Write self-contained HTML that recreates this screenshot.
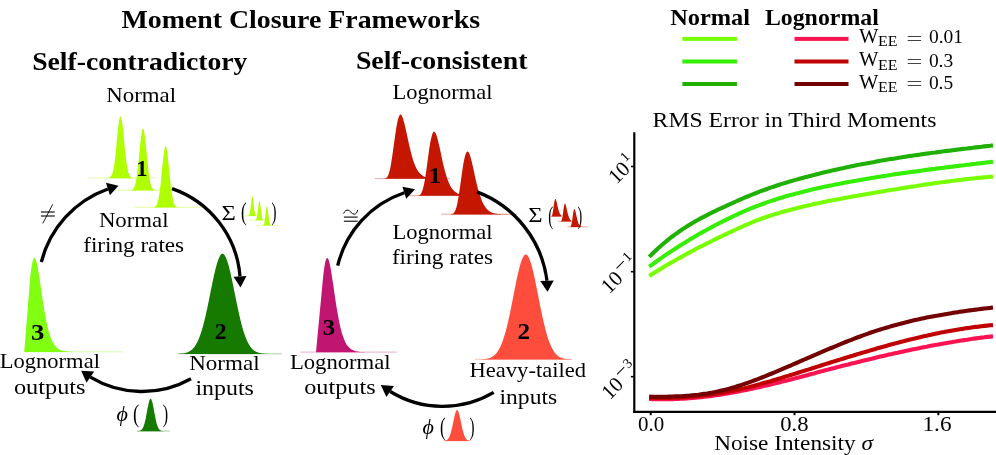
<!DOCTYPE html>
<html><head><meta charset="utf-8"><style>
html,body{margin:0;padding:0;background:#fff;}
body{width:996px;height:455px;overflow:hidden;}
svg{display:block;}
text{font-family:"Liberation Serif",serif;fill:#000;}
</style></head><body>
<svg width="996" height="455" viewBox="0 0 996 455">
<rect width="996" height="455" fill="#fff"/>
<g style="opacity:0.999">
<text x="121.4" y="27.6" font-size="25.5" textLength="358.6" lengthAdjust="spacingAndGlyphs" font-weight="bold">Moment Closure Frameworks</text>
<text x="32.2" y="69.6" font-size="25.5" textLength="215.2" lengthAdjust="spacingAndGlyphs" font-weight="bold">Self-contradictory</text>
<text x="355.9" y="69.4" font-size="25.5" textLength="171.5" lengthAdjust="spacingAndGlyphs" font-weight="bold">Self-consistent</text>
<text x="106.2" y="101.7" font-size="22" textLength="69.9" lengthAdjust="spacingAndGlyphs">Normal</text>
<line x1="88.4" y1="178" x2="156.6" y2="178" stroke="#b0ff00" stroke-width="1" opacity="0.35"/><path d="M88.4 178.2 L88.4 178.2 L89.1 178.2 L89.8 178.2 L90.5 178.2 L91.2 178.2 L91.8 178.2 L92.5 178.2 L93.2 178.2 L93.9 178.2 L94.6 178.2 L95.3 178.2 L96 178.2 L96.7 178.2 L97.4 178.2 L98 178.2 L98.7 178.2 L99.4 178.2 L100.1 178.2 L100.8 178.2 L101.5 178.2 L102.2 178.2 L102.9 178.2 L103.6 178.2 L104.2 178.2 L104.9 178.2 L105.6 178.2 L106.3 178.2 L107 178.1 L107.7 178.1 L108.4 178 L109.1 177.8 L109.8 177.5 L110.4 176.9 L111.1 176.1 L111.8 174.8 L112.5 172.9 L113.2 170.3 L113.9 166.7 L114.6 162.2 L115.3 156.6 L116 150.3 L116.6 143.3 L117.3 136.1 L118 129.3 L118.7 123.4 L119.4 119 L120.1 116.6 L120.8 116.4 L121.5 118.4 L122.2 122.4 L122.8 128 L123.5 134.7 L124.2 141.9 L124.9 148.9 L125.6 155.5 L126.3 161.2 L127 165.9 L127.7 169.7 L128.4 172.5 L129 174.5 L129.7 175.9 L130.4 176.8 L131.1 177.4 L131.8 177.8 L132.5 178 L133.2 178.1 L133.9 178.1 L134.6 178.2 L135.2 178.2 L135.9 178.2 L136.6 178.2 L137.3 178.2 L138 178.2 L138.7 178.2 L139.4 178.2 L140.1 178.2 L140.8 178.2 L141.4 178.2 L142.1 178.2 L142.8 178.2 L143.5 178.2 L144.2 178.2 L144.9 178.2 L145.6 178.2 L146.3 178.2 L147 178.2 L147.6 178.2 L148.3 178.2 L149 178.2 L149.7 178.2 L150.4 178.2 L151.1 178.2 L151.8 178.2 L152.5 178.2 L153.2 178.2 L153.8 178.2 L154.5 178.2 L155.2 178.2 L155.9 178.2 L156.6 178.2 L156.6 178.2 Z" fill="#b0ff00"/>
<line x1="115" y1="190.2" x2="171" y2="190.2" stroke="#b0ff00" stroke-width="1" opacity="0.35"/><path d="M115 190.4 L115 190.4 L115.6 190.4 L116.1 190.4 L116.7 190.4 L117.3 190.4 L117.8 190.4 L118.4 190.4 L119 190.4 L119.5 190.4 L120.1 190.4 L120.7 190.4 L121.2 190.4 L121.8 190.4 L122.4 190.4 L122.9 190.4 L123.5 190.4 L124.1 190.4 L124.6 190.4 L125.2 190.4 L125.7 190.4 L126.3 190.4 L126.9 190.4 L127.4 190.4 L128 190.4 L128.6 190.4 L129.1 190.4 L129.7 190.3 L130.3 190.3 L130.8 190.2 L131.4 190.1 L132 189.8 L132.5 189.5 L133.1 189 L133.7 188.2 L134.2 187.2 L134.8 185.8 L135.4 183.9 L135.9 181.4 L136.5 178.3 L137.1 174.5 L137.6 170.1 L138.2 165 L138.8 159.4 L139.3 153.6 L139.9 147.7 L140.5 142.1 L141 137.1 L141.6 133 L142.2 130.1 L142.7 128.6 L143.3 128.6 L143.8 130.1 L144.4 133 L145 137.1 L145.5 142.1 L146.1 147.7 L146.7 153.6 L147.2 159.4 L147.8 165 L148.4 170.1 L148.9 174.5 L149.5 178.3 L150.1 181.4 L150.6 183.9 L151.2 185.8 L151.8 187.2 L152.3 188.2 L152.9 189 L153.5 189.5 L154 189.8 L154.6 190.1 L155.2 190.2 L155.7 190.3 L156.3 190.3 L156.9 190.4 L157.4 190.4 L158 190.4 L158.6 190.4 L159.1 190.4 L159.7 190.4 L160.3 190.4 L160.8 190.4 L161.4 190.4 L161.9 190.4 L162.5 190.4 L163.1 190.4 L163.6 190.4 L164.2 190.4 L164.8 190.4 L165.3 190.4 L165.9 190.4 L166.5 190.4 L167 190.4 L167.6 190.4 L168.2 190.4 L168.7 190.4 L169.3 190.4 L169.9 190.4 L170.4 190.4 L171 190.4 L171 190.4 Z" fill="#b0ff00"/>
<line x1="134" y1="207.3" x2="201" y2="207.3" stroke="#b0ff00" stroke-width="1" opacity="0.35"/><path d="M134 207.5 L134 207.5 L134.7 207.5 L135.4 207.5 L136 207.5 L136.7 207.5 L137.4 207.5 L138.1 207.5 L138.7 207.5 L139.4 207.5 L140.1 207.5 L140.8 207.5 L141.4 207.5 L142.1 207.5 L142.8 207.5 L143.5 207.5 L144.2 207.5 L144.8 207.5 L145.5 207.5 L146.2 207.5 L146.9 207.5 L147.5 207.5 L148.2 207.5 L148.9 207.5 L149.6 207.5 L150.2 207.5 L150.9 207.5 L151.6 207.5 L152.3 207.4 L152.9 207.4 L153.6 207.3 L154.3 207.1 L155 206.7 L155.7 206.1 L156.3 205.3 L157 203.9 L157.7 202 L158.4 199.3 L159 195.8 L159.7 191.3 L160.4 185.9 L161.1 179.6 L161.7 172.8 L162.4 165.8 L163.1 159.2 L163.8 153.4 L164.5 149 L165.1 146.5 L165.8 146.1 L166.5 147.8 L167.2 151.5 L167.8 156.8 L168.5 163.2 L169.2 170.1 L169.9 177.1 L170.5 183.6 L171.2 189.3 L171.9 194.2 L172.6 198.1 L173.3 201.1 L173.9 203.3 L174.6 204.8 L175.3 205.8 L176 206.5 L176.6 206.9 L177.3 207.2 L178 207.3 L178.7 207.4 L179.3 207.5 L180 207.5 L180.7 207.5 L181.4 207.5 L182.1 207.5 L182.7 207.5 L183.4 207.5 L184.1 207.5 L184.8 207.5 L185.4 207.5 L186.1 207.5 L186.8 207.5 L187.5 207.5 L188.1 207.5 L188.8 207.5 L189.5 207.5 L190.2 207.5 L190.8 207.5 L191.5 207.5 L192.2 207.5 L192.9 207.5 L193.6 207.5 L194.2 207.5 L194.9 207.5 L195.6 207.5 L196.3 207.5 L196.9 207.5 L197.6 207.5 L198.3 207.5 L199 207.5 L199.6 207.5 L200.3 207.5 L201 207.5 L201 207.5 Z" fill="#b0ff00"/>
<text x="136.3" y="175.5" font-size="23" textLength="11.2" lengthAdjust="spacingAndGlyphs" font-weight="bold">1</text>
<text x="98.9" y="227" font-size="22" textLength="69.6" lengthAdjust="spacingAndGlyphs">Normal</text>
<text x="83.2" y="252.1" font-size="22" textLength="100.9" lengthAdjust="spacingAndGlyphs">firing rates</text>
<line x1="24.2" y1="351.8" x2="122.6" y2="351.8" stroke="#80ff10" stroke-width="1" opacity="0.35"/><path d="M24.2 352 L30.4 275 L31.7 265.8 L32.9 259.9 L34.2 257.6 L35.4 258.5 L36.7 262.4 L37.9 268.4 L39.1 276 L40.4 284.3 L41.6 292.9 L42.9 301.3 L44.1 309.2 L45.4 316.3 L46.6 322.6 L47.9 328.1 L49.1 332.8 L50.4 336.6 L51.6 339.8 L52.8 342.4 L54.1 344.5 L55.3 346.2 L56.6 347.5 L57.8 348.6 L59.1 349.4 L60.3 350 L61.6 350.5 L62.8 350.9 L64.1 351.1 L65.3 351.3 L66.5 351.5 L67.8 351.6 L69 351.7 L70.3 351.8 L71.5 351.8 L72.8 351.9 L74 351.9 L75.3 351.9 L76.5 352 L77.8 352 L79 352 L80.3 352 L81.5 352 L82.7 352 L84 352 L85.2 352 L86.5 352 L87.7 352 L89 352 L90.2 352 L91.5 352 L92.7 352 L94 352 L95.2 352 L96.4 352 L97.7 352 L98.9 352 L100.2 352 L101.4 352 L102.7 352 L103.9 352 L105.2 352 L106.4 352 L107.7 352 L108.9 352 L110.1 352 L111.4 352 L112.6 352 L113.9 352 L115.1 352 L116.4 352 L117.6 352 L118.9 352 L120.1 352 L121.4 352 L122.6 352 L122.6 352 Z" fill="#80ff10"/>
<text x="31.1" y="340" font-size="23" textLength="13.4" lengthAdjust="spacingAndGlyphs" font-weight="bold">3</text>
<line x1="178" y1="353.8" x2="282" y2="353.8" stroke="#167a00" stroke-width="1" opacity="0.35"/><path d="M178 354 L178 353.9 L178.7 353.8 L179.5 353.8 L180.2 353.8 L181 353.7 L181.7 353.6 L182.5 353.5 L183.2 353.4 L184 353.3 L184.7 353.2 L185.5 353 L186.2 352.8 L187 352.6 L187.7 352.3 L188.5 351.9 L189.2 351.6 L190 351.1 L190.7 350.6 L191.5 350.1 L192.2 349.4 L193 348.6 L193.7 347.8 L194.5 346.9 L195.2 345.8 L196 344.6 L196.7 343.3 L197.5 341.8 L198.2 340.2 L198.9 338.4 L199.7 336.5 L200.4 334.4 L201.2 332.2 L201.9 329.7 L202.7 327.2 L203.4 324.4 L204.2 321.5 L204.9 318.4 L205.7 315.2 L206.4 311.9 L207.2 308.4 L207.9 304.9 L208.7 301.2 L209.4 297.5 L210.2 293.8 L210.9 290.1 L211.7 286.4 L212.4 282.7 L213.2 279.2 L213.9 275.7 L214.7 272.4 L215.4 269.3 L216.2 266.4 L216.9 263.7 L217.7 261.3 L218.4 259.2 L219.2 257.4 L219.9 256 L220.6 254.8 L221.4 254.1 L222.1 253.7 L222.9 253.8 L223.6 254.1 L224.4 254.9 L225.1 256 L225.9 257.5 L226.6 259.3 L227.4 261.4 L228.1 263.8 L228.9 266.5 L229.6 269.4 L230.4 272.6 L231.1 275.9 L231.9 279.3 L232.6 282.9 L233.4 286.5 L234.1 290.3 L234.9 294 L235.6 297.7 L236.4 301.4 L237.1 305 L237.9 308.6 L238.6 312 L239.4 315.4 L240.1 318.6 L240.8 321.6 L241.6 324.5 L242.3 327.3 L243.1 329.9 L243.8 332.3 L244.6 334.5 L245.3 336.6 L246.1 338.5 L246.8 340.3 L247.6 341.9 L248.3 343.3 L249.1 344.7 L249.8 345.8 L250.6 346.9 L251.3 347.8 L252.1 348.7 L252.8 349.4 L253.6 350.1 L254.3 350.7 L255.1 351.2 L255.8 351.6 L256.6 352 L257.3 352.3 L258.1 352.6 L258.8 352.8 L259.6 353 L260.3 353.2 L261.1 353.3 L261.8 353.4 L262.5 353.5 L263.3 353.6 L264 353.7 L264.8 353.8 L265.5 353.8 L266.3 353.8 L267 353.9 L267.8 353.9 L268.5 353.9 L269.3 353.9 L270 353.9 L270.8 354 L271.5 354 L272.3 354 L273 354 L273.8 354 L274.5 354 L275.3 354 L276 354 L276.8 354 L277.5 354 L278.3 354 L279 354 L279.8 354 L280.5 354 L281.3 354 L282 354 L282 354 Z" fill="#167a00"/>
<text x="214.7" y="339" font-size="23" textLength="11.9" lengthAdjust="spacingAndGlyphs" font-weight="bold">2</text>
<path d="M41.3 262 A105 105 0 0 1 107.9 189" fill="none" stroke="#000" stroke-width="3.3"/><polygon points="118.5,185.7 109.9,195.3 105.9,182.7" fill="#000"/>
<path d="M172 188.6 A101.4 101.4 0 0 1 240 276.4" fill="none" stroke="#000" stroke-width="3.3"/><polygon points="240.5,287.4 233.5,276.7 246.5,276.1" fill="#000"/>
<path d="M191 378.7 A100.1 100.1 0 0 1 90.3 377.1" fill="none" stroke="#000" stroke-width="3.3"/><polygon points="81.2,370.8 94.2,371.5 86.5,382.7" fill="#000"/>
<g stroke="#000" fill="none"><line x1="40.9" y1="212" x2="54.8" y2="212" stroke-width="1.1"/><line x1="40.9" y1="216" x2="54.8" y2="216" stroke-width="1.1"/><line x1="52.7" y1="204.3" x2="42.8" y2="223.4" stroke-width="0.9"/></g>
<text x="221.5" y="220" font-size="22" textLength="14.3" lengthAdjust="spacingAndGlyphs">&#931;</text>
<text x="241.1" y="219.7" font-size="25" textLength="5.6" lengthAdjust="spacingAndGlyphs">(</text>
<line x1="243" y1="215.8" x2="262" y2="215.8" stroke="#b0ff00" stroke-width="1" opacity="0.35"/><path d="M243 216 L243 216 L243.5 216 L244 216 L244.5 216 L244.9 216 L245.4 216 L245.9 216 L246.4 216 L246.9 216 L247.4 216 L247.9 215.9 L248.4 215.8 L248.8 215.4 L249.3 214.5 L249.8 212.8 L250.3 209.8 L250.8 205.8 L251.3 201.3 L251.8 197.6 L252.3 196 L252.7 197.1 L253.2 200.5 L253.7 205 L254.2 209.2 L254.7 212.3 L255.2 214.3 L255.7 215.3 L256.2 215.8 L256.6 215.9 L257.1 216 L257.6 216 L258.1 216 L258.6 216 L259.1 216 L259.6 216 L260.1 216 L260.5 216 L261 216 L261.5 216 L262 216 L262 216 Z" fill="#b0ff00"/>
<line x1="249.5" y1="220" x2="268" y2="220" stroke="#b0ff00" stroke-width="1" opacity="0.35"/><path d="M249.5 220.2 L249.5 220.2 L250 220.2 L250.4 220.2 L250.9 220.2 L251.4 220.2 L251.9 220.2 L252.3 220.2 L252.8 220.2 L253.3 220.2 L253.8 220.2 L254.2 220.2 L254.7 220.2 L255.2 220.1 L255.7 219.9 L256.1 219.3 L256.6 218.2 L257.1 216.1 L257.6 212.8 L258 208.6 L258.5 204.4 L259 201.2 L259.5 200.2 L259.9 201.8 L260.4 205.4 L260.9 209.8 L261.4 213.8 L261.8 216.7 L262.3 218.6 L262.8 219.5 L263.3 220 L263.7 220.1 L264.2 220.2 L264.7 220.2 L265.2 220.2 L265.6 220.2 L266.1 220.2 L266.6 220.2 L267.1 220.2 L267.5 220.2 L268 220.2 L268 220.2 Z" fill="#b0ff00"/>
<line x1="256.8" y1="225.4" x2="279.2" y2="225.4" stroke="#b0ff00" stroke-width="1" opacity="0.35"/><path d="M256.8 225.6 L256.8 225.6 L257.4 225.6 L257.9 225.6 L258.5 225.6 L259.1 225.6 L259.7 225.6 L260.2 225.6 L260.8 225.6 L261.4 225.6 L262 225.6 L262.5 225.5 L263.1 225.4 L263.7 224.8 L264.3 223.4 L264.8 220.6 L265.4 216.1 L266 210.8 L266.6 206.7 L267.1 205.7 L267.7 208.4 L268.3 213.3 L268.9 218.4 L269.4 222.1 L270 224.2 L270.6 225.2 L271.2 225.5 L271.7 225.6 L272.3 225.6 L272.9 225.6 L273.5 225.6 L274 225.6 L274.6 225.6 L275.2 225.6 L275.8 225.6 L276.3 225.6 L276.9 225.6 L277.5 225.6 L278.1 225.6 L278.6 225.6 L279.2 225.6 L279.2 225.6 Z" fill="#b0ff00"/>
<text x="271.5" y="219.7" font-size="25" textLength="5" lengthAdjust="spacingAndGlyphs">)</text>
<text x="-0.2" y="368.2" font-size="22" textLength="100.1" lengthAdjust="spacingAndGlyphs">Lognormal</text>
<text x="13.9" y="393.6" font-size="22" textLength="71.7" lengthAdjust="spacingAndGlyphs">outputs</text>
<text x="189.2" y="369.8" font-size="22" textLength="70.4" lengthAdjust="spacingAndGlyphs">Normal</text>
<text x="195.4" y="395.2" font-size="22" textLength="58.5" lengthAdjust="spacingAndGlyphs">inputs</text>
<text x="116.5" y="421.2" font-size="22" textLength="11.4" lengthAdjust="spacingAndGlyphs" font-style="italic">&#981;</text>
<text x="133.1" y="421.9" font-size="25" textLength="6.2" lengthAdjust="spacingAndGlyphs">(</text>
<line x1="137" y1="431" x2="170" y2="431" stroke="#167a00" stroke-width="1" opacity="0.35"/><path d="M137 431.2 L137 431.2 L137.4 431.2 L137.8 431.1 L138.3 431.1 L138.7 431.1 L139.1 431 L139.5 430.9 L139.9 430.8 L140.3 430.6 L140.8 430.4 L141.2 430.1 L141.6 429.8 L142 429.3 L142.4 428.7 L142.8 428 L143.3 427.1 L143.7 426.1 L144.1 424.8 L144.5 423.4 L144.9 421.8 L145.4 420 L145.8 418 L146.2 415.9 L146.6 413.6 L147 411.3 L147.4 409.1 L147.9 406.9 L148.3 404.8 L148.7 402.9 L149.1 401.4 L149.5 400.1 L149.9 399.2 L150.4 398.8 L150.8 398.7 L151.2 399.2 L151.6 400 L152 401.2 L152.5 402.7 L152.9 404.6 L153.3 406.6 L153.7 408.8 L154.1 411.1 L154.5 413.4 L155 415.6 L155.4 417.7 L155.8 419.7 L156.2 421.6 L156.6 423.2 L157.1 424.7 L157.5 425.9 L157.9 427 L158.3 427.9 L158.7 428.6 L159.1 429.2 L159.6 429.7 L160 430.1 L160.4 430.4 L160.8 430.6 L161.2 430.8 L161.6 430.9 L162.1 431 L162.5 431.1 L162.9 431.1 L163.3 431.1 L163.7 431.2 L164.2 431.2 L164.6 431.2 L165 431.2 L165.4 431.2 L165.8 431.2 L166.2 431.2 L166.7 431.2 L167.1 431.2 L167.5 431.2 L167.9 431.2 L168.3 431.2 L168.7 431.2 L169.2 431.2 L169.6 431.2 L170 431.2 L170 431.2 Z" fill="#167a00"/>
<text x="162.7" y="421.9" font-size="25" textLength="5.4" lengthAdjust="spacingAndGlyphs">)</text>
<text x="392.5" y="98.9" font-size="22" textLength="99.9" lengthAdjust="spacingAndGlyphs">Lognormal</text>
<line x1="374.8" y1="178.6" x2="450" y2="178.6" stroke="#c41600" stroke-width="1" opacity="0.35"/><path d="M374.8 178.8 L374.8 178.8 L375.9 178.8 L377 178.8 L378.1 178.8 L379.2 178.8 L380.2 178.8 L381.3 178.8 L382.4 178.8 L383.5 178.8 L384.6 178.6 L385.7 178.3 L386.8 177.5 L387.9 175.9 L389 173.1 L390.1 169 L391.1 163.5 L392.2 156.6 L393.3 148.8 L394.4 140.7 L395.5 132.9 L396.6 126 L397.7 120.5 L398.8 116.7 L399.9 114.8 L401 114.6 L402 116.1 L403.1 118.9 L404.2 122.8 L405.3 127.4 L406.4 132.3 L407.5 137.5 L408.6 142.5 L409.7 147.3 L410.8 151.8 L411.9 155.9 L412.9 159.5 L414 162.7 L415.1 165.5 L416.2 167.9 L417.3 169.9 L418.4 171.6 L419.5 173 L420.6 174.1 L421.7 175 L422.8 175.8 L423.8 176.4 L424.9 176.9 L426 177.3 L427.1 177.6 L428.2 177.9 L429.3 178.1 L430.4 178.2 L431.5 178.4 L432.6 178.5 L433.7 178.5 L434.7 178.6 L435.8 178.6 L436.9 178.7 L438 178.7 L439.1 178.7 L440.2 178.7 L441.3 178.8 L442.4 178.8 L443.5 178.8 L444.6 178.8 L445.6 178.8 L446.7 178.8 L447.8 178.8 L448.9 178.8 L450 178.8 L450 178.8 Z" fill="#c41600"/>
<line x1="407" y1="195.6" x2="484" y2="195.6" stroke="#c41600" stroke-width="1" opacity="0.35"/><path d="M407 195.8 L407 195.8 L408.1 195.8 L409.2 195.8 L410.3 195.8 L411.5 195.8 L412.6 195.8 L413.7 195.8 L414.8 195.8 L415.9 195.8 L417 195.8 L418.2 195.6 L419.3 195.3 L420.4 194.5 L421.5 192.8 L422.6 190 L423.7 185.7 L424.9 179.8 L426 172.7 L427.1 164.7 L428.2 156.4 L429.3 148.5 L430.4 141.7 L431.6 136.4 L432.7 133 L433.8 131.6 L434.9 131.9 L436 133.9 L437.1 137.2 L438.2 141.5 L439.4 146.4 L440.5 151.5 L441.6 156.8 L442.7 161.9 L443.8 166.6 L444.9 171 L446.1 175 L447.2 178.4 L448.3 181.5 L449.4 184 L450.5 186.2 L451.6 188 L452.8 189.6 L453.9 190.8 L455 191.8 L456.1 192.6 L457.2 193.3 L458.3 193.8 L459.4 194.3 L460.6 194.6 L461.7 194.9 L462.8 195.1 L463.9 195.2 L465 195.4 L466.1 195.5 L467.3 195.5 L468.4 195.6 L469.5 195.6 L470.6 195.7 L471.7 195.7 L472.8 195.7 L474 195.7 L475.1 195.8 L476.2 195.8 L477.3 195.8 L478.4 195.8 L479.5 195.8 L480.7 195.8 L481.8 195.8 L482.9 195.8 L484 195.8 L484 195.8 Z" fill="#c41600"/>
<line x1="441" y1="214.2" x2="517" y2="214.2" stroke="#c41600" stroke-width="1" opacity="0.35"/><path d="M441 214.4 L441 214.4 L442.1 214.4 L443.2 214.4 L444.3 214.4 L445.4 214.4 L446.5 214.4 L447.6 214.4 L448.7 214.4 L449.8 214.4 L450.9 214.3 L452 214.1 L453.1 213.7 L454.2 212.6 L455.3 210.6 L456.4 207.4 L457.5 202.7 L458.6 196.6 L459.7 189.3 L460.8 181.4 L461.9 173.4 L463 166.1 L464.1 159.9 L465.2 155.2 L466.3 152.4 L467.4 151.4 L468.5 152.1 L469.6 154.3 L470.7 157.7 L471.8 162 L472.9 166.8 L474 171.8 L475.1 176.9 L476.2 181.7 L477.3 186.3 L478.4 190.5 L479.6 194.3 L480.7 197.6 L481.8 200.5 L482.9 203 L484 205.1 L485.1 206.8 L486.2 208.3 L487.3 209.5 L488.4 210.5 L489.5 211.3 L490.6 211.9 L491.7 212.4 L492.8 212.9 L493.9 213.2 L495 213.5 L496.1 213.7 L497.2 213.8 L498.3 214 L499.4 214.1 L500.5 214.1 L501.6 214.2 L502.7 214.2 L503.8 214.3 L504.9 214.3 L506 214.3 L507.1 214.3 L508.2 214.4 L509.3 214.4 L510.4 214.4 L511.5 214.4 L512.6 214.4 L513.7 214.4 L514.8 214.4 L515.9 214.4 L517 214.4 L517 214.4 Z" fill="#c41600"/>
<text x="428.8" y="183.4" font-size="23" textLength="12.3" lengthAdjust="spacingAndGlyphs" font-weight="bold">1</text>
<text x="392.4" y="238.6" font-size="22" textLength="100.1" lengthAdjust="spacingAndGlyphs">Lognormal</text>
<text x="391.9" y="264.3" font-size="22" textLength="101.1" lengthAdjust="spacingAndGlyphs">firing rates</text>
<line x1="300.4" y1="352.1" x2="396.7" y2="352.1" stroke="#c01570" stroke-width="1" opacity="0.35"/><path d="M316 352.3 L323.2 276 L324.2 268.1 L325.2 262.3 L326.2 258.9 L327.2 257.8 L328.3 258.9 L329.3 262 L330.3 266.6 L331.3 272.3 L332.3 278.9 L333.4 285.8 L334.4 292.9 L335.4 299.8 L336.4 306.4 L337.5 312.6 L338.5 318.2 L339.5 323.3 L340.5 327.8 L341.5 331.8 L342.6 335.2 L343.6 338.1 L344.6 340.6 L345.6 342.7 L346.6 344.5 L347.7 345.9 L348.7 347.1 L349.7 348.1 L350.7 348.9 L351.8 349.6 L352.8 350.1 L353.8 350.6 L354.8 350.9 L355.8 351.2 L356.9 351.4 L357.9 351.6 L358.9 351.8 L359.9 351.9 L360.9 352 L362 352 L363 352.1 L364 352.1 L365 352.2 L366.1 352.2 L367.1 352.2 L368.1 352.2 L369.1 352.3 L370.1 352.3 L371.2 352.3 L372.2 352.3 L373.2 352.3 L374.2 352.3 L375.2 352.3 L376.3 352.3 L377.3 352.3 L378.3 352.3 L379.3 352.3 L380.4 352.3 L381.4 352.3 L382.4 352.3 L383.4 352.3 L384.4 352.3 L385.5 352.3 L386.5 352.3 L387.5 352.3 L388.5 352.3 L389.5 352.3 L390.6 352.3 L391.6 352.3 L392.6 352.3 L393.6 352.3 L394.7 352.3 L395.7 352.3 L396.7 352.3 L396.7 352.3 Z" fill="#c01570"/>
<text x="322.8" y="335" font-size="23" textLength="12.4" lengthAdjust="spacingAndGlyphs" font-weight="bold">3</text>
<line x1="475" y1="359.3" x2="572" y2="359.3" stroke="#ff4d3d" stroke-width="1" opacity="0.35"/><path d="M475 359.5 L475 359.5 L475.7 359.5 L476.4 359.5 L477.1 359.5 L477.8 359.4 L478.5 359.4 L479.2 359.4 L479.9 359.4 L480.6 359.4 L481.3 359.3 L482 359.3 L482.7 359.3 L483.4 359.2 L484.1 359.1 L484.8 359.1 L485.5 359 L486.2 358.9 L486.9 358.7 L487.6 358.6 L488.3 358.4 L489 358.2 L489.7 358 L490.4 357.7 L491.1 357.4 L491.7 357.1 L492.4 356.7 L493.1 356.2 L493.8 355.7 L494.5 355.1 L495.2 354.5 L495.9 353.7 L496.6 352.9 L497.3 352 L498 350.9 L498.7 349.8 L499.4 348.6 L500.1 347.2 L500.8 345.7 L501.5 344.1 L502.2 342.3 L502.9 340.4 L503.6 338.3 L504.3 336.1 L505 333.8 L505.7 331.3 L506.4 328.6 L507.1 325.8 L507.8 322.9 L508.5 319.8 L509.2 316.7 L509.9 313.4 L510.6 310 L511.3 306.6 L512 303 L512.7 299.5 L513.4 295.9 L514.1 292.3 L514.8 288.8 L515.5 285.3 L516.2 281.8 L516.9 278.5 L517.6 275.3 L518.3 272.2 L519 269.3 L519.7 266.6 L520.4 264.1 L521.1 261.9 L521.8 259.9 L522.5 258.3 L523.2 256.9 L523.8 255.8 L524.5 255 L525.2 254.6 L525.9 254.5 L526.6 254.7 L527.3 255.3 L528 256.2 L528.7 257.4 L529.4 258.9 L530.1 260.7 L530.8 262.8 L531.5 265.1 L532.2 267.7 L532.9 270.5 L533.6 273.4 L534.3 276.6 L535 279.8 L535.7 283.2 L536.4 286.7 L537.1 290.2 L537.8 293.8 L538.5 297.4 L539.2 300.9 L539.9 304.5 L540.6 308 L541.3 311.4 L542 314.7 L542.7 318 L543.4 321.1 L544.1 324.1 L544.8 327 L545.5 329.7 L546.2 332.3 L546.9 334.7 L547.6 337 L548.3 339.2 L549 341.2 L549.7 343 L550.4 344.7 L551.1 346.3 L551.8 347.8 L552.5 349.1 L553.2 350.3 L553.9 351.4 L554.6 352.4 L555.3 353.2 L555.9 354 L556.6 354.7 L557.3 355.4 L558 355.9 L558.7 356.4 L559.4 356.9 L560.1 357.2 L560.8 357.6 L561.5 357.8 L562.2 358.1 L562.9 358.3 L563.6 358.5 L564.3 358.7 L565 358.8 L565.7 358.9 L566.4 359 L567.1 359.1 L567.8 359.2 L568.5 359.2 L569.2 359.3 L569.9 359.3 L570.6 359.3 L571.3 359.4 L572 359.4 L572 359.5 Z" fill="#ff4d3d"/>
<text x="517.5" y="338.7" font-size="23" textLength="12.6" lengthAdjust="spacingAndGlyphs" font-weight="bold">2</text>
<path d="M337.7 265.7 A101.5 101.5 0 0 1 404.3 192.7" fill="none" stroke="#000" stroke-width="3.3"/><polygon points="415.1,189.2 406.2,198.7 402.4,186.7" fill="#000"/>
<path d="M477 191.9 A109.8 109.8 0 0 1 547 280.8" fill="none" stroke="#000" stroke-width="3.3"/><polygon points="547.5,291.7 540.2,281.1 553.8,280.4" fill="#000"/>
<path d="M493.7 392.4 A100 100 0 0 1 390.2 391.5" fill="none" stroke="#000" stroke-width="3.3"/><polygon points="380.8,385 394,386.1 386.4,396.9" fill="#000"/>
<g stroke="#000" fill="none"><path d="M343.6 213.5 C345 210.5 346.5 209.8 348.3 210.2 C350.3 210.8 351.5 214 354.2 214.2 C356 214.3 357.2 212.5 357.7 209.9" stroke-width="1"/><line x1="343.9" y1="217.1" x2="357.7" y2="217.1" stroke-width="1.1"/><line x1="343.9" y1="221.2" x2="357.7" y2="221.2" stroke-width="1.1"/></g>
<text x="528.2" y="221.8" font-size="22" textLength="14.3" lengthAdjust="spacingAndGlyphs">&#931;</text>
<text x="548.3" y="223.5" font-size="25" textLength="4.9" lengthAdjust="spacingAndGlyphs">(</text>
<line x1="550.7" y1="216.3" x2="561.5" y2="216.3" stroke="#c41600" stroke-width="1" opacity="0.35"/><path d="M550.7 216.5 L550.7 216.5 L551 216.4 L551.3 216.4 L551.5 216.2 L551.8 215.8 L552.1 215.2 L552.4 214.3 L552.6 213.1 L552.9 211.5 L553.2 209.7 L553.5 207.7 L553.7 205.7 L554 203.8 L554.3 202.1 L554.6 200.7 L554.9 199.7 L555.1 199.1 L555.4 198.9 L555.7 199.1 L556 199.6 L556.2 200.4 L556.5 201.5 L556.8 202.6 L557.1 203.9 L557.3 205.1 L557.6 206.4 L557.9 207.6 L558.2 208.7 L558.5 209.8 L558.7 210.7 L559 211.6 L559.3 212.4 L559.6 213 L559.8 213.6 L560.1 214.1 L560.4 214.5 L560.7 214.8 L560.9 215.1 L561.2 215.4 L561.5 215.6 L561.5 216.5 Z" fill="#c41600"/>
<line x1="558" y1="221.3" x2="571.4" y2="221.3" stroke="#c41600" stroke-width="1" opacity="0.35"/><path d="M558 221.5 L558 221.5 L558.3 221.5 L558.7 221.5 L559 221.5 L559.4 221.5 L559.7 221.5 L560.1 221.5 L560.4 221.5 L560.7 221.4 L561.1 221.2 L561.4 220.7 L561.8 219.9 L562.1 218.6 L562.5 216.7 L562.8 214.5 L563.2 212 L563.5 209.5 L563.8 207.2 L564.2 205.4 L564.5 204.2 L564.9 203.6 L565.2 203.7 L565.6 204.3 L565.9 205.4 L566.2 206.7 L566.6 208.3 L566.9 209.9 L567.3 211.5 L567.6 213 L568 214.3 L568.3 215.6 L568.7 216.6 L569 217.6 L569.3 218.3 L569.7 219 L570 219.5 L570.4 219.9 L570.7 220.3 L571.1 220.5 L571.4 220.8 L571.4 221.5 Z" fill="#c41600"/>
<line x1="567.3" y1="226.9" x2="588" y2="226.9" stroke="#c41600" stroke-width="1" opacity="0.35"/><path d="M567.3 227.1 L567.3 227.1 L567.8 227.1 L568.4 227.1 L568.9 227.1 L569.4 227.1 L570 227.1 L570.5 226.8 L571 225.9 L571.5 224 L572.1 220.9 L572.6 217 L573.1 213.3 L573.7 210.5 L574.2 209.1 L574.7 209.3 L575.3 210.7 L575.8 212.8 L576.3 215.3 L576.9 217.7 L577.4 219.9 L577.9 221.8 L578.4 223.2 L579 224.4 L579.5 225.2 L580 225.8 L580.6 226.2 L581.1 226.5 L581.6 226.7 L582.2 226.8 L582.7 226.9 L583.2 227 L583.8 227 L584.3 227.1 L584.8 227.1 L585.3 227.1 L585.9 227.1 L586.4 227.1 L586.9 227.1 L587.5 227.1 L588 227.1 L588 227.1 Z" fill="#c41600"/>
<text x="577.4" y="223.5" font-size="25" textLength="4.7" lengthAdjust="spacingAndGlyphs">)</text>
<text x="289.9" y="368.6" font-size="22" textLength="100.7" lengthAdjust="spacingAndGlyphs">Lognormal</text>
<text x="304.2" y="394.3" font-size="22" textLength="71.4" lengthAdjust="spacingAndGlyphs">outputs</text>
<text x="469.5" y="377.4" font-size="22" textLength="116.5" lengthAdjust="spacingAndGlyphs">Heavy-tailed</text>
<text x="499.5" y="403.6" font-size="22" textLength="57.7" lengthAdjust="spacingAndGlyphs">inputs</text>
<text x="422.4" y="434" font-size="22" textLength="11.4" lengthAdjust="spacingAndGlyphs" font-style="italic">&#981;</text>
<text x="440.1" y="434.9" font-size="25" textLength="5.6" lengthAdjust="spacingAndGlyphs">(</text>
<line x1="443.5" y1="440.8" x2="470.7" y2="440.8" stroke="#ff4d3d" stroke-width="1" opacity="0.35"/><path d="M443.5 441 L443.5 440.9 L444.2 440.9 L444.9 440.8 L445.6 440.6 L446.3 440.3 L447 439.9 L447.7 439.3 L448.4 438.5 L449.1 437.3 L449.8 435.7 L450.5 433.7 L451.2 431.2 L451.9 428.4 L452.6 425.2 L453.3 421.9 L454 418.6 L454.7 415.5 L455.4 412.9 L456.1 411.1 L456.8 410.1 L457.4 410.1 L458.1 411.1 L458.8 412.9 L459.5 415.5 L460.2 418.6 L460.9 421.9 L461.6 425.2 L462.3 428.4 L463 431.2 L463.7 433.7 L464.4 435.7 L465.1 437.3 L465.8 438.5 L466.5 439.3 L467.2 439.9 L467.9 440.3 L468.6 440.6 L469.3 440.8 L470 440.9 L470.7 440.9 L470.7 441 Z" fill="#ff4d3d"/>
<text x="469.5" y="434.9" font-size="25" textLength="5" lengthAdjust="spacingAndGlyphs">)</text>
<text x="670.2" y="24.6" font-size="22.5" textLength="79.9" lengthAdjust="spacingAndGlyphs" font-weight="bold">Normal</text>
<text x="764.9" y="24.6" font-size="22.5" textLength="113.9" lengthAdjust="spacingAndGlyphs" font-weight="bold">Lognormal</text>
<rect x="682.4" y="36.9" width="54.5" height="4" fill="#78ff00"/>
<rect x="794.5" y="36.9" width="54" height="4" fill="#fc1452"/>
<rect x="682.4" y="59.5" width="54.5" height="4" fill="#36ee00"/>
<rect x="794.5" y="59.5" width="54" height="4" fill="#c00000"/>
<rect x="682.4" y="82" width="54.5" height="4" fill="#1fb000"/>
<rect x="794.5" y="82" width="54" height="4" fill="#720000"/>
<text x="859.1" y="42.7" font-size="20.3" textLength="19.4" lengthAdjust="spacingAndGlyphs">W</text>
<text x="878" y="46.2" font-size="14.7" textLength="19.6" lengthAdjust="spacingAndGlyphs">EE</text>
<rect x="907.7" y="36" width="13.4" height="1" fill="#444"/><rect x="907.7" y="40" width="13.4" height="1" fill="#444"/>
<text x="928.9" y="43" font-size="19.5" textLength="34.1" lengthAdjust="spacingAndGlyphs">0.01</text>
<text x="859.1" y="66.2" font-size="20.3" textLength="19.4" lengthAdjust="spacingAndGlyphs">W</text>
<text x="878" y="69.7" font-size="14.7" textLength="19.6" lengthAdjust="spacingAndGlyphs">EE</text>
<rect x="907.7" y="59" width="13.4" height="1" fill="#444"/><rect x="907.7" y="63" width="13.4" height="1" fill="#444"/>
<text x="928.9" y="66.5" font-size="19.5" textLength="24.3" lengthAdjust="spacingAndGlyphs">0.3</text>
<text x="859.1" y="88.9" font-size="20.3" textLength="19.4" lengthAdjust="spacingAndGlyphs">W</text>
<text x="878" y="92.4" font-size="14.7" textLength="19.6" lengthAdjust="spacingAndGlyphs">EE</text>
<rect x="907.7" y="81" width="13.4" height="1" fill="#444"/><rect x="907.7" y="85" width="13.4" height="1" fill="#444"/>
<text x="928.9" y="89.2" font-size="19.5" textLength="24.3" lengthAdjust="spacingAndGlyphs">0.5</text>
<text x="652.6" y="126.7" font-size="22" textLength="283.8" lengthAdjust="spacingAndGlyphs">RMS Error in Third Moments</text>
<line x1="634.3" y1="132.3" x2="634.3" y2="412.8" stroke="#000" stroke-width="2.2"/>
<line x1="633.2" y1="411.8" x2="996" y2="411.8" stroke="#000" stroke-width="2.2"/>
<line x1="630.9" y1="166.5" x2="634" y2="166.5" stroke="#000" stroke-width="1.6"/>
<line x1="630.9" y1="271.7" x2="634" y2="271.7" stroke="#000" stroke-width="1.6"/>
<line x1="630.9" y1="376.7" x2="634" y2="376.7" stroke="#000" stroke-width="1.6"/>
<line x1="650.7" y1="412" x2="650.7" y2="415.2" stroke="#000" stroke-width="2"/>
<line x1="794.5" y1="412" x2="794.5" y2="415.2" stroke="#000" stroke-width="2"/>
<line x1="938.3" y1="412" x2="938.3" y2="415.2" stroke="#000" stroke-width="2"/>
<g transform="translate(616.4 184.8) rotate(-45)"><text x="0" y="0" font-size="21">10</text><text x="25.8" y="-9.6" font-size="14" text-anchor="middle">1</text></g>
<g transform="translate(609.2 294.4) rotate(-45)"><text x="0" y="0" font-size="21">10</text><rect x="23.6" y="-13.7" width="10.2" height="0.95" fill="#000"/><text x="39.4" y="-9.6" font-size="14" text-anchor="middle">1</text></g>
<g transform="translate(609.7 400.4) rotate(-45)"><text x="0" y="0" font-size="21">10</text><rect x="23.6" y="-13.7" width="10.2" height="0.95" fill="#000"/><text x="38.8" y="-9" font-size="14" text-anchor="middle">3</text></g>
<text x="638" y="430.9" font-size="21.6" textLength="26.2" lengthAdjust="spacingAndGlyphs">0.0</text>
<text x="780.2" y="430.9" font-size="21.6" textLength="28.3" lengthAdjust="spacingAndGlyphs">0.8</text>
<text x="922.5" y="430.9" font-size="21.6" textLength="29" lengthAdjust="spacingAndGlyphs">1.6</text>
<text x="714.2" y="449.7" font-size="22" textLength="158.7" lengthAdjust="spacingAndGlyphs">Noise Intensity <tspan font-style="italic">&#963;</tspan></text>
<path d="M649.2 275.9 L652.1 274.1 L655 272.3 L657.9 270.5 L660.8 268.8 L663.6 267 L666.5 265.3 L669.4 263.6 L672.3 262 L675.2 260.3 L678.1 258.7 L681 257.1 L683.9 255.5 L686.8 253.9 L689.6 252.4 L692.5 250.9 L695.4 249.3 L698.3 247.8 L701.2 246.3 L704.1 244.9 L707 243.4 L709.9 242 L712.8 240.5 L715.6 239.1 L718.5 237.7 L721.4 236.3 L724.3 234.9 L727.2 233.5 L730.1 232.2 L733 230.8 L735.9 229.5 L738.8 228.1 L741.7 226.8 L744.5 225.5 L747.4 224.3 L750.3 223.1 L753.2 221.9 L756.1 220.7 L759 219.6 L761.9 218.5 L764.8 217.5 L767.7 216.5 L770.5 215.5 L773.4 214.6 L776.3 213.7 L779.2 212.9 L782.1 212 L785 211.2 L787.9 210.4 L790.8 209.7 L793.7 208.9 L796.5 208.2 L799.4 207.5 L802.3 206.8 L805.2 206.1 L808.1 205.4 L811 204.8 L813.9 204.1 L816.8 203.5 L819.7 202.9 L822.5 202.3 L825.4 201.7 L828.3 201.1 L831.2 200.5 L834.1 200 L837 199.4 L839.9 198.9 L842.8 198.3 L845.7 197.8 L848.5 197.3 L851.4 196.7 L854.3 196.2 L857.2 195.7 L860.1 195.2 L863 194.7 L865.9 194.2 L868.8 193.7 L871.7 193.2 L874.5 192.7 L877.4 192.2 L880.3 191.8 L883.2 191.3 L886.1 190.8 L889 190.3 L891.9 189.8 L894.8 189.4 L897.7 188.9 L900.5 188.4 L903.4 188 L906.3 187.5 L909.2 187.1 L912.1 186.6 L915 186.2 L917.9 185.7 L920.8 185.3 L923.7 184.8 L926.6 184.4 L929.4 184 L932.3 183.6 L935.2 183.1 L938.1 182.7 L941 182.3 L943.9 182 L946.8 181.6 L949.7 181.2 L952.6 180.8 L955.4 180.5 L958.3 180.1 L961.2 179.8 L964.1 179.4 L967 179.1 L969.9 178.8 L972.8 178.5 L975.7 178.2 L978.6 177.9 L981.4 177.6 L984.3 177.3 L987.2 177.1 L990.1 176.8 L993 176.6" fill="none" stroke="#78ff00" stroke-width="4.1" stroke-linejoin="round"/>
<path d="M649.2 266.7 L652.1 264.6 L655 262.5 L657.9 260.4 L660.8 258.4 L663.6 256.4 L666.5 254.4 L669.4 252.5 L672.3 250.6 L675.2 248.7 L678.1 246.8 L681 245 L683.9 243.2 L686.8 241.4 L689.6 239.6 L692.5 237.9 L695.4 236.2 L698.3 234.5 L701.2 232.9 L704.1 231.3 L707 229.7 L709.9 228.1 L712.8 226.6 L715.6 225 L718.5 223.5 L721.4 222.1 L724.3 220.6 L727.2 219.2 L730.1 217.8 L733 216.4 L735.9 215.1 L738.8 213.7 L741.7 212.4 L744.5 211.2 L747.4 209.9 L750.3 208.7 L753.2 207.5 L756.1 206.4 L759 205.3 L761.9 204.2 L764.8 203.2 L767.7 202.1 L770.5 201.1 L773.4 200.2 L776.3 199.3 L779.2 198.3 L782.1 197.5 L785 196.6 L787.9 195.8 L790.8 195 L793.7 194.2 L796.5 193.4 L799.4 192.7 L802.3 191.9 L805.2 191.2 L808.1 190.5 L811 189.8 L813.9 189.1 L816.8 188.5 L819.7 187.8 L822.5 187.2 L825.4 186.6 L828.3 186 L831.2 185.4 L834.1 184.8 L837 184.2 L839.9 183.7 L842.8 183.1 L845.7 182.5 L848.5 182 L851.4 181.5 L854.3 180.9 L857.2 180.4 L860.1 179.9 L863 179.4 L865.9 178.9 L868.8 178.4 L871.7 177.9 L874.5 177.5 L877.4 177 L880.3 176.6 L883.2 176.1 L886.1 175.7 L889 175.2 L891.9 174.8 L894.8 174.3 L897.7 173.9 L900.5 173.5 L903.4 173.1 L906.3 172.7 L909.2 172.3 L912.1 171.9 L915 171.5 L917.9 171.1 L920.8 170.7 L923.7 170.3 L926.6 169.9 L929.4 169.5 L932.3 169.1 L935.2 168.8 L938.1 168.4 L941 168 L943.9 167.7 L946.8 167.3 L949.7 166.9 L952.6 166.6 L955.4 166.2 L958.3 165.9 L961.2 165.5 L964.1 165.2 L967 164.8 L969.9 164.5 L972.8 164.1 L975.7 163.8 L978.6 163.4 L981.4 163.1 L984.3 162.7 L987.2 162.4 L990.1 162.1 L993 161.7" fill="none" stroke="#36ee00" stroke-width="4.1" stroke-linejoin="round"/>
<path d="M649.2 256.9 L652.1 254 L655 251.2 L657.9 248.5 L660.8 246 L663.6 243.5 L666.5 241.1 L669.4 238.7 L672.3 236.5 L675.2 234.4 L678.1 232.3 L681 230.3 L683.9 228.4 L686.8 226.5 L689.6 224.7 L692.5 223 L695.4 221.3 L698.3 219.7 L701.2 218.1 L704.1 216.6 L707 215.1 L709.9 213.6 L712.8 212.2 L715.6 210.8 L718.5 209.4 L721.4 208.1 L724.3 206.8 L727.2 205.4 L730.1 204.1 L733 202.8 L735.9 201.5 L738.8 200.2 L741.7 199 L744.5 197.7 L747.4 196.5 L750.3 195.3 L753.2 194.1 L756.1 193 L759 191.8 L761.9 190.7 L764.8 189.7 L767.7 188.7 L770.5 187.6 L773.4 186.7 L776.3 185.7 L779.2 184.8 L782.1 183.9 L785 183 L787.9 182.1 L790.8 181.3 L793.7 180.4 L796.5 179.6 L799.4 178.8 L802.3 178 L805.2 177.2 L808.1 176.5 L811 175.7 L813.9 175 L816.8 174.2 L819.7 173.5 L822.5 172.8 L825.4 172.1 L828.3 171.4 L831.2 170.7 L834.1 170.1 L837 169.4 L839.9 168.8 L842.8 168.2 L845.7 167.5 L848.5 166.9 L851.4 166.3 L854.3 165.7 L857.2 165.1 L860.1 164.6 L863 164 L865.9 163.5 L868.8 162.9 L871.7 162.4 L874.5 161.9 L877.4 161.3 L880.3 160.8 L883.2 160.3 L886.1 159.8 L889 159.3 L891.9 158.9 L894.8 158.4 L897.7 157.9 L900.5 157.5 L903.4 157 L906.3 156.6 L909.2 156.1 L912.1 155.7 L915 155.3 L917.9 154.9 L920.8 154.4 L923.7 154 L926.6 153.6 L929.4 153.2 L932.3 152.8 L935.2 152.5 L938.1 152.1 L941 151.7 L943.9 151.3 L946.8 150.9 L949.7 150.6 L952.6 150.2 L955.4 149.9 L958.3 149.5 L961.2 149.1 L964.1 148.8 L967 148.5 L969.9 148.1 L972.8 147.8 L975.7 147.4 L978.6 147.1 L981.4 146.8 L984.3 146.4 L987.2 146.1 L990.1 145.8 L993 145.4" fill="none" stroke="#1fb000" stroke-width="4.1" stroke-linejoin="round"/>
<path d="M649.2 399 L652.1 399.2 L655 399.2 L657.9 399.3 L660.8 399.3 L663.6 399.3 L666.5 399.3 L669.4 399.2 L672.3 399.1 L675.2 399 L678.1 398.9 L681 398.8 L683.9 398.6 L686.8 398.4 L689.6 398.2 L692.5 397.9 L695.4 397.7 L698.3 397.4 L701.2 397.1 L704.1 396.8 L707 396.4 L709.9 396.1 L712.8 395.7 L715.6 395.3 L718.5 394.9 L721.4 394.4 L724.3 394 L727.2 393.5 L730.1 393 L733 392.5 L735.9 391.9 L738.8 391.4 L741.7 390.8 L744.5 390.3 L747.4 389.7 L750.3 389.1 L753.2 388.4 L756.1 387.8 L759 387.2 L761.9 386.5 L764.8 385.8 L767.7 385.2 L770.5 384.5 L773.4 383.8 L776.3 383.1 L779.2 382.4 L782.1 381.6 L785 380.9 L787.9 380.2 L790.8 379.4 L793.7 378.7 L796.5 377.9 L799.4 377.2 L802.3 376.4 L805.2 375.7 L808.1 374.9 L811 374.1 L813.9 373.4 L816.8 372.6 L819.7 371.8 L822.5 371.1 L825.4 370.3 L828.3 369.6 L831.2 368.8 L834.1 368.1 L837 367.3 L839.9 366.6 L842.8 365.8 L845.7 365.1 L848.5 364.4 L851.4 363.6 L854.3 362.9 L857.2 362.2 L860.1 361.5 L863 360.8 L865.9 360.1 L868.8 359.4 L871.7 358.7 L874.5 358 L877.4 357.3 L880.3 356.6 L883.2 355.9 L886.1 355.3 L889 354.6 L891.9 354 L894.8 353.3 L897.7 352.7 L900.5 352 L903.4 351.4 L906.3 350.8 L909.2 350.2 L912.1 349.6 L915 349 L917.9 348.4 L920.8 347.8 L923.7 347.2 L926.6 346.7 L929.4 346.1 L932.3 345.5 L935.2 345 L938.1 344.5 L941 343.9 L943.9 343.4 L946.8 342.9 L949.7 342.4 L952.6 341.9 L955.4 341.5 L958.3 341 L961.2 340.5 L964.1 340.1 L967 339.7 L969.9 339.2 L972.8 338.8 L975.7 338.4 L978.6 338 L981.4 337.6 L984.3 337.3 L987.2 336.9 L990.1 336.6 L993 336.2" fill="none" stroke="#fc1452" stroke-width="4.1" stroke-linejoin="round"/>
<path d="M649.2 397.9 L652.1 398 L655 398 L657.9 398 L660.8 398 L663.6 398 L666.5 398 L669.4 397.9 L672.3 397.8 L675.2 397.7 L678.1 397.6 L681 397.4 L683.9 397.3 L686.8 397.1 L689.6 396.8 L692.5 396.6 L695.4 396.3 L698.3 396 L701.2 395.7 L704.1 395.4 L707 395 L709.9 394.6 L712.8 394.2 L715.6 393.8 L718.5 393.3 L721.4 392.9 L724.3 392.4 L727.2 391.8 L730.1 391.3 L733 390.7 L735.9 390.1 L738.8 389.5 L741.7 388.8 L744.5 388.2 L747.4 387.5 L750.3 386.7 L753.2 386 L756.1 385.2 L759 384.4 L761.9 383.6 L764.8 382.8 L767.7 382 L770.5 381.2 L773.4 380.3 L776.3 379.4 L779.2 378.6 L782.1 377.7 L785 376.8 L787.9 375.9 L790.8 375 L793.7 374.1 L796.5 373.2 L799.4 372.3 L802.3 371.4 L805.2 370.5 L808.1 369.6 L811 368.7 L813.9 367.8 L816.8 366.9 L819.7 366 L822.5 365 L825.4 364.1 L828.3 363.2 L831.2 362.3 L834.1 361.4 L837 360.5 L839.9 359.6 L842.8 358.7 L845.7 357.8 L848.5 356.9 L851.4 356.1 L854.3 355.2 L857.2 354.3 L860.1 353.4 L863 352.6 L865.9 351.7 L868.8 350.9 L871.7 350 L874.5 349.2 L877.4 348.3 L880.3 347.5 L883.2 346.7 L886.1 345.9 L889 345.1 L891.9 344.3 L894.8 343.5 L897.7 342.8 L900.5 342 L903.4 341.3 L906.3 340.5 L909.2 339.8 L912.1 339.1 L915 338.4 L917.9 337.7 L920.8 337 L923.7 336.3 L926.6 335.7 L929.4 335 L932.3 334.4 L935.2 333.8 L938.1 333.2 L941 332.6 L943.9 332.1 L946.8 331.5 L949.7 331 L952.6 330.5 L955.4 330 L958.3 329.5 L961.2 329 L964.1 328.6 L967 328.1 L969.9 327.7 L972.8 327.3 L975.7 326.9 L978.6 326.6 L981.4 326.2 L984.3 325.9 L987.2 325.6 L990.1 325.3 L993 325.1" fill="none" stroke="#c00000" stroke-width="4.1" stroke-linejoin="round"/>
<path d="M649.2 396.6 L652.1 396.7 L655 396.7 L657.9 396.7 L660.8 396.7 L663.6 396.7 L666.5 396.7 L669.4 396.6 L672.3 396.5 L675.2 396.4 L678.1 396.3 L681 396.2 L683.9 396 L686.8 395.8 L689.6 395.6 L692.5 395.3 L695.4 395 L698.3 394.7 L701.2 394.3 L704.1 393.9 L707 393.5 L709.9 393 L712.8 392.5 L715.6 391.9 L718.5 391.3 L721.4 390.6 L724.3 389.9 L727.2 389.2 L730.1 388.4 L733 387.6 L735.9 386.7 L738.8 385.8 L741.7 384.9 L744.5 383.9 L747.4 382.9 L750.3 381.9 L753.2 380.8 L756.1 379.8 L759 378.6 L761.9 377.5 L764.8 376.4 L767.7 375.2 L770.5 374 L773.4 372.8 L776.3 371.6 L779.2 370.4 L782.1 369.2 L785 367.9 L787.9 366.7 L790.8 365.5 L793.7 364.2 L796.5 363 L799.4 361.7 L802.3 360.4 L805.2 359.2 L808.1 357.9 L811 356.7 L813.9 355.4 L816.8 354.2 L819.7 352.9 L822.5 351.7 L825.4 350.4 L828.3 349.2 L831.2 348 L834.1 346.8 L837 345.6 L839.9 344.4 L842.8 343.2 L845.7 342 L848.5 340.9 L851.4 339.8 L854.3 338.6 L857.2 337.5 L860.1 336.5 L863 335.4 L865.9 334.4 L868.8 333.3 L871.7 332.3 L874.5 331.4 L877.4 330.4 L880.3 329.5 L883.2 328.6 L886.1 327.7 L889 326.9 L891.9 326 L894.8 325.2 L897.7 324.4 L900.5 323.7 L903.4 322.9 L906.3 322.2 L909.2 321.5 L912.1 320.8 L915 320.1 L917.9 319.5 L920.8 318.8 L923.7 318.2 L926.6 317.6 L929.4 317.1 L932.3 316.5 L935.2 315.9 L938.1 315.4 L941 314.9 L943.9 314.4 L946.8 313.9 L949.7 313.4 L952.6 312.9 L955.4 312.5 L958.3 312.1 L961.2 311.6 L964.1 311.2 L967 310.8 L969.9 310.4 L972.8 310 L975.7 309.6 L978.6 309.3 L981.4 308.9 L984.3 308.5 L987.2 308.2 L990.1 307.9 L993 307.5" fill="none" stroke="#720000" stroke-width="4.1" stroke-linejoin="round"/>
</g>
</svg>
</body></html>
